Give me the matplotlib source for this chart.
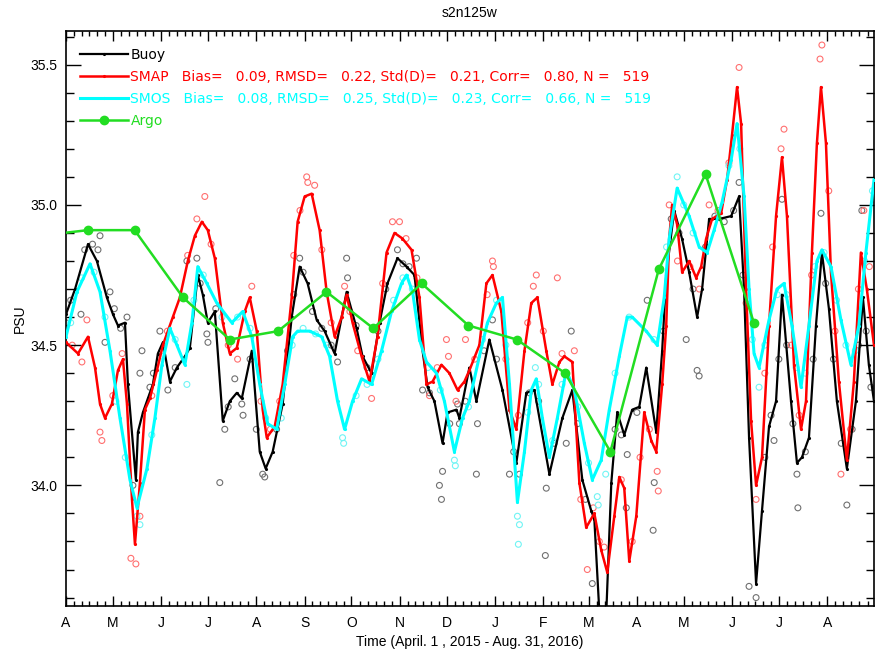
import numpy as np
import matplotlib
matplotlib.use('Agg')
import matplotlib.pyplot as plt

plt.rcParams['font.family'] = ['Liberation Sans', 'DejaVu Sans']

# time axis: days since 2015-04-01
month_letters = ['A', 'M', 'J', 'J', 'A', 'S', 'O', 'N', 'D', 'J', 'F', 'M',
                 'A', 'M', 'J', 'J', 'A']

# smoothed daily salinity (PSU)
buoy_day = [0, 5.8, 14.1, 19.8, 26.2, 30.1, 33.3, 37.8, 39.7, 44.8, 46.1, 49.3,
            52.5, 55.7, 58.9, 62.1, 66.6, 71.1, 76.2, 79.4, 84.5, 87.7, 90.9,
            95.4, 100.5, 105.0, 109.5, 112.7, 119.1, 124.2, 128.0, 132.5, 138.9,
            144.7, 149.8, 154.9, 160.7, 165.8, 172.2, 179.9, 186.3, 190.1, 195.9,
            201.0, 206.1, 212.5, 218.3, 223.4, 228.6, 231.8, 236.2, 241.4, 244.6,
            250.3, 252.2, 258.6, 263.1, 271.4, 279.8, 288.7, 295.1, 300.3, 309.9,
            318.2, 324.6, 331.0, 336.7, 338.7, 341.9, 346.4, 349.6, 353.4, 357.9,
            363.0, 367.5, 372.0, 378.4, 382.2, 384.8, 389.9, 394.9, 399.5, 404.6,
            407.8, 412.3, 418.7, 426.4, 431.5, 434.7, 437.9, 442.4, 446.2, 450.7,
            455.2, 459.0, 464.8, 468.6, 471.8, 476.3, 480.8, 484.6, 489.1, 494.2,
            500.6, 506.4, 510.9, 514.7, 518]
buoy_psu = [34.61, 34.70, 34.86, 34.80, 34.67, 34.61, 34.57, 34.58, 34.36, 34.02, 34.19, 34.26,
            34.31, 34.36, 34.47, 34.51, 34.37, 34.42, 34.46, 34.49, 34.75, 34.68, 34.58,
            34.62, 34.23, 34.30, 34.33, 34.31, 34.48, 34.12, 34.06, 34.12, 34.29,
            34.60, 34.78, 34.72, 34.59, 34.55, 34.47, 34.69, 34.56, 34.46, 34.40,
            34.58, 34.72, 34.81, 34.78, 34.75, 34.48, 34.35, 34.30, 34.15, 34.26,
            34.27, 34.24, 34.42, 34.30, 34.52, 34.34, 34.08, 34.33, 34.34, 34.04,
            34.24, 34.34, 34.02, 33.91, 33.88, 33.55, 33.55, 34.01, 34.26, 34.18,
            34.27, 34.28, 34.42, 34.19, 34.48, 34.75, 34.98, 34.88, 34.76, 34.60,
            34.70, 34.95, 34.95, 34.96, 35.03, 34.70, 34.17, 33.65, 33.91, 34.21,
            34.30, 34.68, 34.30, 34.08, 34.10, 34.17, 34.57, 34.83, 34.63, 34.30,
            34.06, 34.30, 34.67, 34.43, 34.30]

smap_day = [0, 7.7, 14.1, 18.6, 21.8, 25.0, 29.4, 33.3, 36.5, 39.1, 42.3, 44.2,
            47.4, 50.6, 53.8, 58.3, 62.1, 68.5, 73.0, 78.1, 82.6, 87.1, 90.9,
            95.4, 100.5, 105.0, 109.5, 114.6, 117.8, 122.3, 126.1, 128.7, 133.8,
            138.9, 144.7, 148.5, 153.0, 157.5, 162.6, 167.1, 172.2, 176.7, 179.9,
            183.7, 189.5, 194.6, 199.7, 205.5, 210.6, 215.7, 221.5, 226.6, 231.1,
            235.0, 240.7, 245.8, 251.0, 255.4, 258.6, 265.0, 269.5, 273.4, 279.1,
            284.3, 288.7, 293.9, 298.3, 302.2, 307.9, 311.8, 316.3, 319.5, 324.6,
            329.1, 333.5, 338.7, 343.1, 347.0, 351.5, 354.7, 357.9, 361.1, 365.6,
            370.7, 375.2, 378.4, 382.2, 384.8, 386.7, 388.6, 391.8, 395.0, 399.5,
            404.0, 407.2, 410.4, 414.2, 420.0, 423.8, 427.0, 430.2, 432.8, 436.0,
            439.2, 442.4, 446.2, 450.7, 455.2, 459.0, 462.2, 466.7, 471.2, 474.4,
            478.2, 481.4, 484.0, 487.2, 490.4, 495.5, 500.6, 505.1, 509.6, 513.4,
            518]
smap_psu = [34.51, 34.47, 34.53, 34.42, 34.29, 34.24, 34.29, 34.41, 34.45, 34.29, 33.95, 33.79,
            34.01, 34.27, 34.31, 34.41, 34.50, 34.60, 34.67, 34.80, 34.89, 34.94, 34.91,
            34.81, 34.58, 34.47, 34.49, 34.62, 34.67, 34.55, 34.27, 34.17, 34.21,
            34.36, 34.67, 34.94, 35.03, 35.04, 34.91, 34.69, 34.53, 34.60, 34.68,
            34.58, 34.46, 34.37, 34.53, 34.83, 34.90, 34.88, 34.84, 34.67, 34.36,
            34.37, 34.43, 34.40, 34.34, 34.37, 34.41, 34.50, 34.72, 34.75, 34.62,
            34.27, 34.20, 34.48, 34.65, 34.67, 34.48, 34.36, 34.44, 34.46, 34.44,
            34.01, 33.85, 33.90, 33.77, 33.69, 33.89, 34.03, 33.99, 33.73, 33.89,
            34.26, 34.16, 34.12, 34.36, 34.57, 34.88, 35.00, 34.93, 34.76, 34.80,
            34.74, 34.78, 34.88, 34.95, 34.97, 35.09, 35.25, 35.42, 35.29, 34.70,
            34.23, 34.00, 34.10, 34.57, 34.96, 35.17, 34.96, 34.43, 34.20, 34.30,
            34.83, 35.22, 35.42, 35.22, 34.76, 34.37, 34.09, 34.37, 34.83, 34.70,
            34.50]

smos_day = [0, 7.0, 15.4, 21.8, 28.2, 34.6, 41.0, 45.5, 51.9, 57.0, 61.5, 66.6,
            71.1, 76.2, 80.7, 84.5, 90.3, 96.7, 106.3, 113.3, 119.1, 124.2, 129.3,
            135.1, 140.2, 145.3, 148.5, 156.2, 163.9, 169.0, 174.1, 178.6, 183.7,
            189.5, 195.9, 202.3, 208.7, 215.1, 218.3, 222.2, 226.6, 231.1, 237.5,
            242.6, 249.0, 254.2, 258.6, 265.0, 270.2, 275.9, 279.8, 284.3, 289.4,
            293.9, 298.3, 301.5, 305.4, 309.9, 315.0, 320.7, 325.9, 332.3, 337.4,
            343.1, 348.3, 354.7, 359.8, 363.0, 372.0, 379.0, 383.5, 386.7, 391.8,
            399.5, 405.9, 411.0, 415.5, 420.6, 426.4, 430.2, 434.7, 437.9, 441.1,
            444.3, 450.7, 455.8, 460.3, 465.4, 471.2, 476.3, 481.4, 484.6, 490.4,
            496.8, 503.2, 508.3, 512.8, 518]
smos_psu = [34.53, 34.69, 34.79, 34.69, 34.48, 34.24, 34.02, 33.92, 34.06, 34.24, 34.43, 34.56,
            34.50, 34.43, 34.58, 34.78, 34.72, 34.65, 34.58, 34.62, 34.53, 34.36, 34.22,
            34.20, 34.36, 34.53, 34.55, 34.55, 34.53, 34.46, 34.30, 34.20, 34.30,
            34.38, 34.36, 34.48, 34.62, 34.72, 34.75, 34.69, 34.52, 34.44, 34.40,
            34.30, 34.12, 34.24, 34.30, 34.46, 34.58, 34.65, 34.67, 34.36, 33.94,
            34.12, 34.34, 34.38, 34.24, 34.10, 34.24, 34.41, 34.34, 34.15, 34.02,
            34.09, 34.27, 34.46, 34.60, 34.60, 34.55, 34.50, 34.67, 34.88, 35.06,
            34.96, 34.85, 34.83, 34.91, 35.01, 35.16, 35.29, 35.03, 34.70, 34.47,
            34.42, 34.59, 34.70, 34.72, 34.57, 34.35, 34.57, 34.80, 34.84, 34.78,
            34.59, 34.43, 34.57, 34.83, 35.09]

# monthly Argo values (mid-month)
argo_day = [-17, 14, 44, 75, 105, 136, 167, 197, 228, 258, 289, 320, 349, 380, 410, 441]
argo_psu = [34.89, 34.91, 34.91, 34.67, 34.52, 34.55, 34.69, 34.56, 34.72, 34.57,
            34.52, 34.40, 34.12, 34.77, 35.11, 34.58]

# raw daily values (day, PSU)
buoy_raw = [(0, 34.58), (3, 34.66), (9.6, 34.61), (12, 34.84), (17, 34.86), (20.5, 34.84),
            (21.8, 34.89), (25, 34.51), (28.2, 34.69), (31, 34.63), (35, 34.56), (39.1, 34.60),
            (42.9, 34.00), (47.4, 34.40), (48.7, 34.48), (53.8, 34.35), (56, 34.40), (60.2, 34.55),
            (65.3, 34.34), (70, 34.42), (77.5, 34.80), (83.9, 34.81), (86, 34.72), (90.3, 34.54),
            (91, 34.51), (96, 34.63), (98.6, 34.01), (101.8, 34.20), (104, 34.28), (108.2, 34.38),
            (112.7, 34.29), (113.5, 34.25), (118, 34.45), (122, 34.20), (126.1, 34.04), (127.4, 34.03),
            (135, 34.20), (142, 34.48), (146, 34.68), (149.8, 34.81), (152, 34.76), (158, 34.62),
            (164, 34.56), (170, 34.50), (174.1, 34.44), (179.9, 34.81), (180.5, 34.74), (186, 34.57),
            (193, 34.42), (200, 34.55), (205, 34.70), (212.5, 34.84), (216, 34.79), (220, 34.78),
            (224.7, 34.81), (228.6, 34.34), (233, 34.33), (239.4, 34.00), (240.7, 33.95), (241.4, 34.05),
            (246, 34.22), (251, 34.29), (252.2, 34.22), (256, 34.30), (263.1, 34.04), (263.8, 34.22),
            (268, 34.48), (273.4, 34.59), (276, 34.45), (284.3, 34.04), (287, 34.12), (290.7, 34.04),
            (297, 34.33), (303, 34.30), (307.3, 33.75), (307.9, 33.99), (313, 34.15), (320.7, 34.15),
            (323.9, 34.55), (328, 34.22), (333, 33.95), (337.4, 33.65), (352, 34.20), (356, 34.18),
            (359.2, 33.92), (359.8, 34.11), (366, 34.26), (372.6, 34.66), (376.4, 33.84), (377.1, 34.01),
            (383, 34.55), (388, 34.95), (393, 34.90), (397.6, 34.52), (402, 34.70), (404.6, 34.41),
            (405.9, 34.39), (410, 34.85), (416, 34.96), (422, 34.94), (428, 34.98), (431.5, 35.08),
            (434, 34.75), (437.9, 33.64), (442.4, 33.60), (448, 34.10), (452, 34.25), (453.9, 34.16),
            (457, 34.45), (459, 35.02), (462, 34.50), (466, 34.22), (468.6, 34.04), (469.2, 33.92),
            (474, 34.12), (479, 34.45), (484, 34.97), (487, 34.72), (492, 34.45), (497, 34.15),
            (500.6, 33.93), (504, 34.20), (508, 34.50), (510.2, 34.98), (513, 34.55), (516, 34.35)]

smap_raw = [(4, 34.50), (10.2, 34.44), (13.4, 34.59), (21.8, 34.19), (23.0, 34.16), (30, 34.32),
            (36, 34.47), (41.6, 33.74), (44.8, 33.72), (47.4, 33.89), (55, 34.32), (65, 34.55),
            (78, 34.82), (83.9, 34.95), (89.0, 35.03), (93, 34.86), (104, 34.50), (110, 34.45),
            (119.1, 34.71), (125, 34.30), (131, 34.20), (137, 34.30), (146, 34.82), (150, 34.98),
            (154.3, 35.10), (155.0, 35.08), (159.4, 35.07), (164, 34.84), (170, 34.58), (178.6, 34.71),
            (182, 34.62), (187, 34.48), (195.9, 34.31), (203, 34.72), (209.3, 34.94), (213.8, 34.94),
            (218, 34.88), (225, 34.74), (233, 34.32), (238, 34.42), (243.9, 34.52), (245.2, 34.46),
            (250, 34.30), (256.1, 34.52), (262, 34.45), (270, 34.68), (273.4, 34.80), (274.0, 34.78),
            (282, 34.45), (290, 34.25), (296, 34.58), (299.6, 34.71), (301.5, 34.75), (306, 34.55),
            (315.0, 34.74), (318, 34.47), (325.9, 34.48), (330, 33.95), (334.2, 33.70), (338, 33.92),
            (341.9, 33.80), (345, 33.78), (356, 34.02), (363, 33.80), (368, 34.10), (374, 34.20),
            (379.0, 34.05), (379.7, 33.98), (386.7, 35.00), (392, 34.80), (400, 34.78), (406, 34.70),
            (412.3, 35.00), (418, 34.98), (425, 35.15), (431.5, 35.49), (436, 34.65), (442.4, 33.95),
            (448, 34.40), (453, 34.85), (458.4, 35.20), (460.3, 35.27), (465, 34.50), (470, 34.25),
            (478, 34.75), (483.4, 35.52), (484.6, 35.57), (489, 35.05), (493, 34.55), (496.8, 34.04),
            (503, 34.20), (508, 34.70), (511.5, 34.98), (515, 34.78)]

smos_raw = [(3, 34.58), (10, 34.74), (18, 34.76), (25, 34.60), (32, 34.30), (38, 34.10),
            (45.5, 33.89), (47.4, 33.86), (55, 34.18), (62, 34.46), (70, 34.52), (77.5, 34.36),
            (82, 34.66), (88, 34.75), (100, 34.60), (110, 34.60), (118, 34.56), (128, 34.24),
            (138, 34.24), (145, 34.50), (152, 34.56), (160, 34.54), (167, 34.50), (177.3, 34.17),
            (178.0, 34.15), (186, 34.32), (193, 34.36), (200, 34.45), (210, 34.66), (216, 34.74),
            (222, 34.70), (232, 34.42), (240, 34.34), (249.0, 34.09), (249.6, 34.07), (258, 34.28),
            (267, 34.52), (276, 34.66), (282, 34.50), (289.4, 33.89), (290.0, 33.79), (290.7, 33.86),
            (296, 34.26), (300.9, 34.42), (303, 34.36), (312, 34.16), (318, 34.36), (328, 34.28),
            (335, 34.08), (340.6, 33.96), (341.2, 33.93), (346, 34.04), (352, 34.40), (361, 34.60),
            (377, 34.52), (385, 34.85), (391.8, 35.10), (396, 35.00), (402, 34.90), (410, 34.84),
            (418, 34.96), (425, 35.14), (432, 35.20), (440, 34.52), (444.3, 34.35), (448, 34.50),
            (456, 34.68), (462, 34.68), (468, 34.42), (474, 34.40), (480, 34.78), (486, 34.83),
            (494, 34.66), (500, 34.50), (506, 34.48), (512, 34.80), (517, 35.05)]

smap_label = 'SMAP   Bias=   0.09, RMSD=   0.22, Std(D)=   0.21, Corr=   0.80, N =   519'
smos_label = 'SMOS   Bias=   0.08, RMSD=   0.25, Std(D)=   0.23, Corr=   0.66, N =   519'

fig = plt.figure(figsize=(8.75, 6.51), dpi=100)
ax = fig.add_axes([66/875, 45/651, 808/875, 575/651])

# raw points as open circles
for raw, col in [(buoy_raw, '#707070'), (smap_raw, '#ff7070'), (smos_raw, '#70f4f4')]:
    d, v = np.array(raw).T
    ax.scatter(d, v, s=18, facecolors='none', edgecolors=col, linewidths=0.8, zorder=1)

l1, = ax.plot(buoy_day, buoy_psu, color='black', lw=1.6, marker='.', ms=2.5, zorder=3)
l2, = ax.plot(smap_day, smap_psu, color='#ff0000', lw=1.8, marker='.', ms=2.5, zorder=4)
l3, = ax.plot(smos_day, smos_psu, color='#00ffff', lw=2.2, marker='.', ms=2.5, zorder=5)
l4, = ax.plot(argo_day, argo_psu, color='#22dd22', lw=1.8, marker='o', ms=6, zorder=6)

ax.legend([l1, l2, l3, l4], ['Buoy', smap_label, smos_label, 'Argo'],
          loc='upper left', bbox_to_anchor=(0.017, 0.970), frameon=False,
          numpoints=1, handlelength=3.45, handletextpad=0.2, borderpad=0,
          borderaxespad=0, labelspacing=0.57, labelcolor='linecolor',
          prop={'family': 'DejaVu Sans', 'size': 10})

# month ticks
months = np.arange(np.datetime64('2015-04'), np.datetime64('2016-10'), dtype='datetime64[M]')
starts = (months.astype('datetime64[D]') - np.datetime64('2015-04-01')).astype(int)
minor = [a + k * (b - a) / 6.0 for a, b in zip(starts[:-1], starts[1:]) for k in range(1, 6)]
ax.set_xticks(starts[:-1])
ax.set_xticklabels(month_letters)
ax.set_xticks(minor, minor=True)
ax.set_xlim(0, 518)

ax.set_ylim(33.57, 35.62)
ax.set_yticks([34.0, 34.5, 35.0, 35.5])
ax.set_yticklabels(['34.0', '34.5', '35.0', '35.5'])
ax.set_yticks(np.arange(33.6, 35.61, 0.1), minor=True)

ax.tick_params(axis='both', which='both', direction='in', top=True, right=True,
               labelsize=10, colors='black')
ax.tick_params(axis='x', which='major', length=7, width=1, pad=7)
ax.tick_params(axis='x', which='minor', length=3.5, width=1)
ax.tick_params(axis='y', which='major', length=11, width=1, pad=6)
ax.tick_params(axis='y', which='minor', length=5.5, width=1)
for s in ax.spines.values():
    s.set_linewidth(1.2)

ax.set_xlabel('Time (April. 1 , 2015 - Aug. 31, 2016)', fontsize=10, labelpad=4)
ax.set_ylabel('PSU', fontsize=10, labelpad=3)
ax.set_title('s2n125w', fontsize=10, pad=10)

fig.savefig('out.png', dpi=100)
